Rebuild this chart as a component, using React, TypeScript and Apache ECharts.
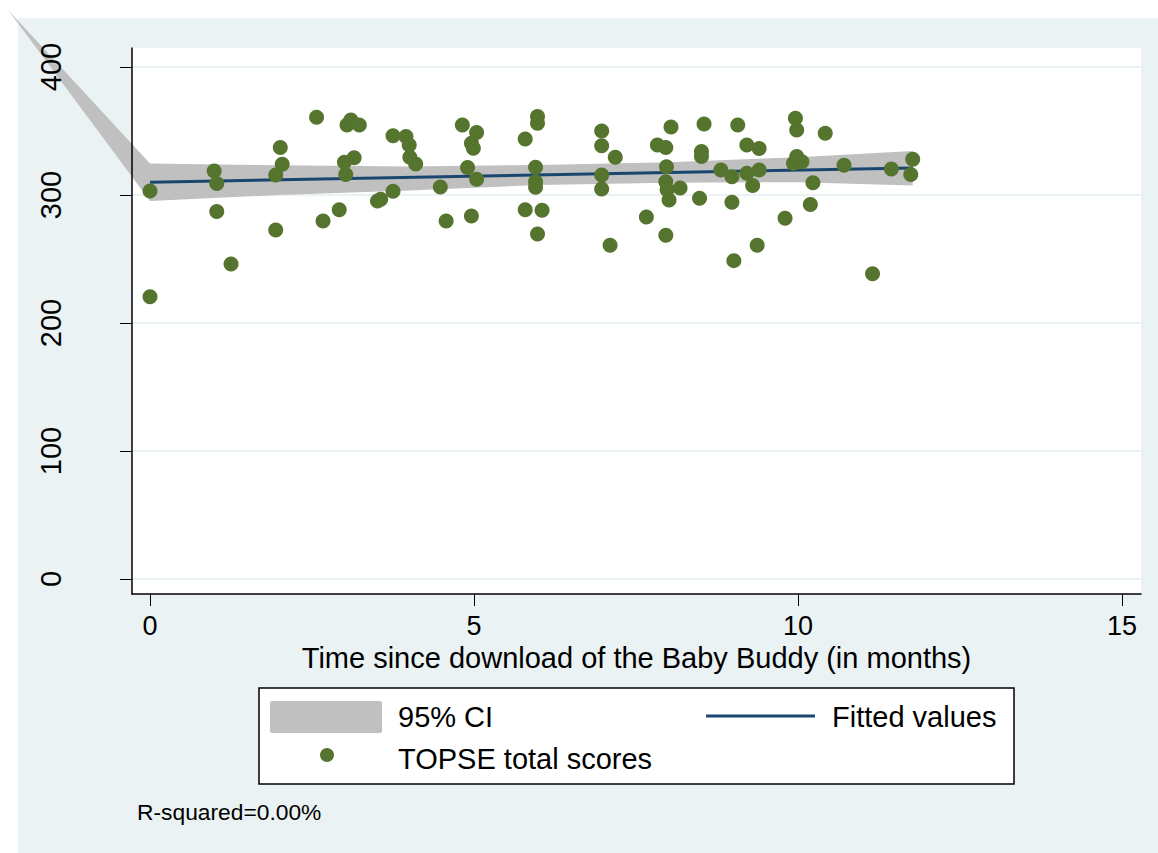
import React, { useEffect, useRef } from "react";
import * as echarts from "echarts";

// TOPSE total score vs. months since the Baby Buddy app was downloaded
const topseScores: [number, number][] = [
  [0, 303], [0, 220.5], [0.99, 318.8], [1.03, 309], [1.03, 287], [1.25, 246],
  [1.94, 315.6], [2.04, 324], [2.01, 337], [1.94, 272.7],
  [2.57, 360.7], [3.04, 354.7], [3.1, 358.6], [3.23, 354.7], [3.0, 325.5], [3.15, 329],
  [3.02, 315.9], [2.67, 279.7], [2.92, 288.5], [3.51, 295.3], [3.56, 296.6], [3.75, 302.9],
  [3.75, 346.3], [3.95, 345.6], [4.0, 339], [4.01, 329.4], [4.1, 324.2], [4.48, 306.2],
  [4.57, 279.7], [4.82, 354.7], [4.9, 321.5],
  [5.04, 348.7], [4.96, 340.4], [4.99, 336.5], [5.04, 312.2], [4.96, 283.6], [5.79, 343.75],
  [5.98, 361.2], [5.98, 356], [5.95, 321.6], [5.95, 310.4], [5.95, 306], [5.79, 288.5],
  [6.05, 288], [5.98, 269.5], [6.97, 350], [6.97, 338.5], [7.18, 329.4], [6.97, 315.6],
  [6.97, 304.7], [7.1, 260.7],
  [7.66, 282.8], [7.83, 339], [7.96, 337], [8.04, 353], [7.97, 322], [7.96, 310.4],
  [7.98, 304], [8.18, 305.5], [8.01, 296], [7.96, 268.5], [8.55, 355.5], [8.51, 333.9],
  [8.51, 330], [8.48, 297.4], [8.81, 319.5], [8.98, 314.3], [8.98, 294.3], [9.01, 248.7],
  [9.07, 354.7], [9.21, 339], [9.4, 336.2], [9.21, 317], [9.4, 319.5], [9.3, 307.3],
  [9.37, 260.7], [9.8, 281.8], [9.96, 359.9], [9.98, 350.8], [9.98, 330], [9.93, 324.7],
  [10.06, 326],
  [10.42, 348.2], [10.23, 309.6], [10.19, 292.5], [10.71, 323.2], [11.15, 238.5],
  [11.44, 320.3], [11.77, 327.9], [11.74, 315.9],
];

// Linear fit
const fitMonths = [0, 11.77];
const fitValues = [310, 321];

// 95% confidence band of the fit
const bandMonths = [-2.19, 0, 2, 4, 6, 8, 10, 11.77];
const bandLower = [444.5, 295.3, 300, 303.4, 307.8, 309.5, 310, 307.3];
const bandUpper = [444.5, 324.6, 323.2, 322.3, 323.5, 325.5, 329.5, 334.4];

const xTicks = [0, 5, 10, 15];
const yTicks = [0, 100, 200, 300, 400];

const X_MIN = -0.278;
const X_MAX = 15.293;
const Y_MIN = -11.72;
const Y_MAX = 414.8;

const FONT = "'Liberation Sans', Arial, Helvetica, sans-serif";
const PANEL = "#EAF2F3";
const GREEN = "#55752F";
const NAVY = "#1A476F";
const CI_GRAY = "#C0C0C0";

export default function App() {
  const ref = useRef<HTMLDivElement>(null);

  useEffect(() => {
    if (!ref.current) return;
    const chart = echarts.init(ref.current, undefined, { renderer: "svg" });

    const option: any = {
      animation: false,
      backgroundColor: "#ffffff",
      grid: { left: 132, top: 48, right: 17, bottom: 259, show: false },
      xAxis: {
        type: "value",
        min: X_MIN,
        max: X_MAX,
        axisLine: { show: true, onZero: false, lineStyle: { color: "#000", width: 1.5 } },
        axisTick: { show: true, customValues: xTicks, length: 12, lineStyle: { color: "#000", width: 1 } },
        axisLabel: { customValues: xTicks, fontSize: 27, fontFamily: FONT, color: "#000", margin: 18 },
        splitLine: { show: false },
        name: "Time since download of the Baby Buddy (in months)",
        nameLocation: "middle",
        nameGap: 49,
        nameMoveOverlap: false,
        nameTextStyle: { fontSize: 29, fontFamily: FONT, color: "#000" },
      },
      yAxis: {
        type: "value",
        min: Y_MIN,
        max: Y_MAX,
        z: 10,
        axisLine: { show: true, onZero: false, lineStyle: { color: "#000", width: 1.5 } },
        axisTick: { show: true, customValues: yTicks, length: 12, lineStyle: { color: "#000", width: 1 } },
        axisLabel: { customValues: yTicks, rotate: 90, fontSize: 29, fontFamily: FONT, color: "#000", margin: 67 },
        splitLine: { show: false },
      },
      graphic: [
        // outer panel and white plot region
        { type: "rect", z: -2, silent: true, shape: { x: 18, y: 18, width: 1140, height: 835 }, style: { fill: PANEL } },
        { type: "rect", z: -1, silent: true, shape: { x: 132, y: 48, width: 1009, height: 546 }, style: { fill: "#ffffff" } },
        // legend box
        { type: "rect", z: 20, shape: { x: 259, y: 688, width: 755, height: 96 }, style: { fill: "#ffffff", stroke: "#000", lineWidth: 1.5 } },
        { type: "rect", z: 21, shape: { x: 270, y: 701, width: 112, height: 32, r: 2 }, style: { fill: CI_GRAY } },
        { type: "text", z: 21, x: 398, y: 717, style: { text: "95% CI", fontSize: 29, fontFamily: FONT, fill: "#000", verticalAlign: "middle" } },
        { type: "line", z: 21, shape: { x1: 706, y1: 716, x2: 815, y2: 716 }, style: { stroke: NAVY, lineWidth: 3 } },
        { type: "text", z: 21, x: 832, y: 717, style: { text: "Fitted values", fontSize: 29, fontFamily: FONT, fill: "#000", verticalAlign: "middle" } },
        { type: "circle", z: 21, shape: { cx: 327, cy: 755, r: 7 }, style: { fill: GREEN } },
        { type: "text", z: 21, x: 398, y: 759, style: { text: "TOPSE total scores", fontSize: 29, fontFamily: FONT, fill: "#000", verticalAlign: "middle" } },
        // note
        { type: "text", z: 21, x: 137, y: 812, style: { text: "R-squared=0.00%", fontSize: 22.8, fontFamily: FONT, fill: "#000", verticalAlign: "middle" } },
      ],
      series: [
        {
          // horizontal grid lines
          type: "custom",
          z: 1,
          silent: true,
          data: yTicks.map((v) => [X_MIN, v]),
          encode: { x: 0, y: 1 },
          renderItem: (_params: any, api: any) => {
            const v = api.value(1);
            const a = api.coord([X_MIN, v]);
            const b = api.coord([X_MAX, v]);
            return {
              type: "line",
              shape: { x1: a[0], y1: a[1], x2: b[0], y2: b[1] },
              style: { stroke: PANEL, lineWidth: 2 },
            };
          },
        },
        {
          name: "95% CI",
          type: "custom",
          z: 2,
          silent: true,
          clip: false,
          data: bandMonths.map((m, i) => [m, bandLower[i], bandUpper[i]]),
          encode: { x: 0, y: [1, 2] },
          renderItem: (params: any, api: any) => {
            if (params.dataIndex !== 0) return { type: "group", children: [] };
            const upper = bandMonths.map((m, i) => api.coord([m, bandUpper[i]]));
            const lower = bandMonths.map((m, i) => api.coord([m, bandLower[i]])).reverse();
            return {
              type: "polygon",
              shape: { points: upper.concat(lower) },
              style: { fill: CI_GRAY },
            };
          },
        },
        {
          name: "Fitted values",
          type: "line",
          z: 3,
          symbol: "none",
          data: fitMonths.map((m, i) => [m, fitValues[i]]),
          lineStyle: { color: NAVY, width: 3 },
        },
        {
          name: "TOPSE total scores",
          type: "scatter",
          z: 4,
          symbol: "circle",
          symbolSize: 15,
          data: topseScores,
          itemStyle: { color: GREEN, opacity: 1 },
        },
      ],
    };

    chart.setOption(option);
    return () => chart.dispose();
  }, []);

  return (
    <div
      ref={ref}
      style={{ position: "absolute", left: 0, top: 0, width: 1158, height: 853 }}
    />
  );
}
